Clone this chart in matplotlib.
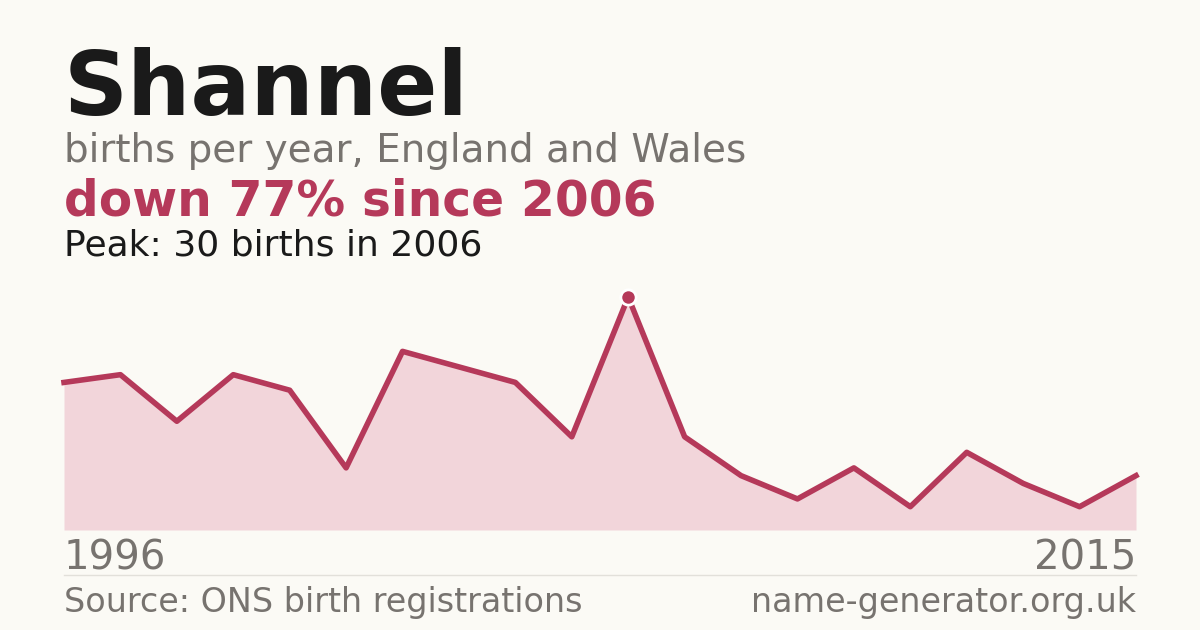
import matplotlib
matplotlib.use("Agg")
import matplotlib.pyplot as plt

years = list(range(1996, 2016))
births = [19, 20, 14, 20, 18, 8, 23, 21, 19, 12, 30, 12, 7, 4, 8, 3, 10, 6, 3, 7]

BG = "#fbfaf5"
RED = "#b5395a"
GREY = "#77736f"

fig = plt.figure(figsize=(12, 6.3), dpi=100, facecolor=BG)
W, H = 1200, 630


def fx(px):
    return px / W


def fy(py):
    return 1 - py / H


ax = fig.add_axes([fx(64), fy(530), fx(1072), 233 / H])
ax.set_facecolor(BG)
ax.fill_between(years, births, 0, color="#f2d5da", lw=0)
ax.plot(years, births, color=RED, lw=4, solid_joinstyle="round", clip_on=False)
peak = births.index(max(births))
ax.plot(years[peak], births[peak], "o", ms=11, color=RED, mec="white", mew=2, clip_on=False)
ax.set_xlim(years[0], years[-1])
ax.set_ylim(0, max(births))
ax.axis("off")

fig.text(fx(64), fy(115), "Shannel", fontsize=64, weight="bold", color="#1a1a1a", va="baseline")
fig.text(fx(64), fy(162), "births per year, England and Wales", fontsize=28, color=GREY, va="baseline")
fig.text(fx(64), fy(215), "down 77% since 2006", fontsize=35, weight="bold", color=RED, va="baseline")
fig.text(fx(64), fy(255), "Peak: 30 births in 2006", fontsize=26, color="#1a1a1a", va="baseline")
fig.text(fx(64), fy(570), str(years[0]), fontsize=29, color=GREY, va="baseline")
fig.text(fx(1136), fy(570), str(years[-1]), fontsize=29, color=GREY, va="baseline", ha="right")
fig.add_artist(plt.Line2D([fx(64), fx(1136)], [fy(575), fy(575)], color="#e2e0da", lw=1))
fig.text(fx(64), fy(612), "Source: ONS birth registrations", fontsize=24, color=GREY, va="baseline")
fig.text(fx(1136), fy(612), "name-generator.org.uk", fontsize=24, color=GREY, va="baseline", ha="right")

fig.savefig("out.png", dpi=100, facecolor=BG)
